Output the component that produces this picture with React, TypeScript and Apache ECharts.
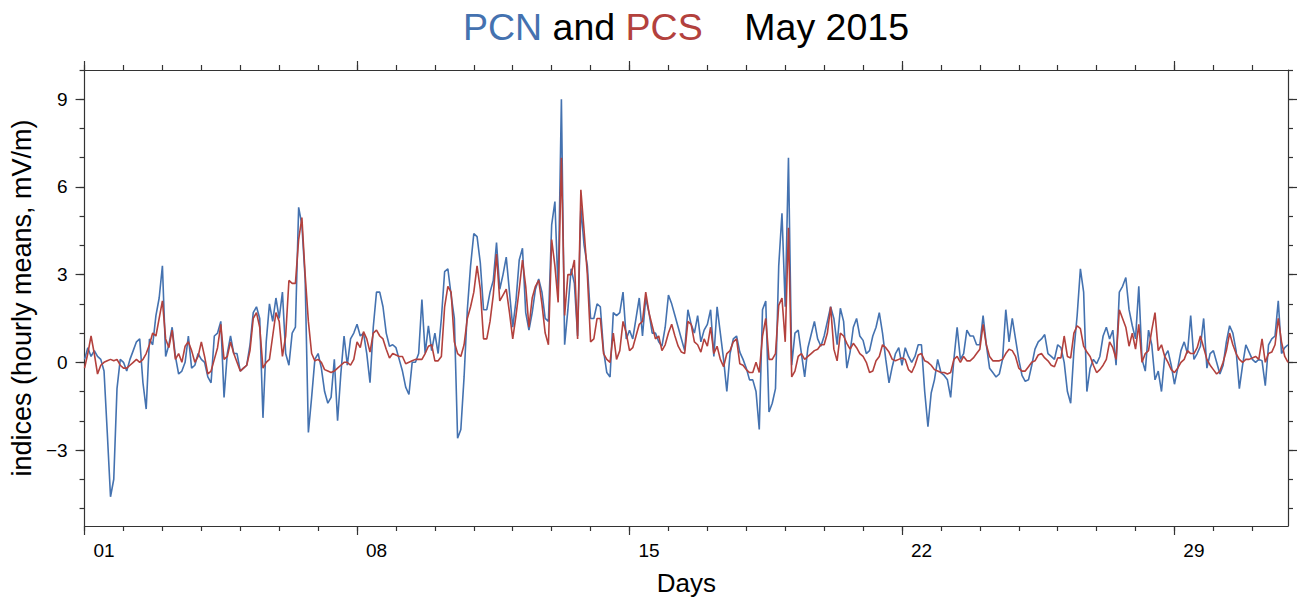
import React, { useEffect, useRef } from "react";
import * as echarts from "echarts";

const FONT = "'Liberation Sans', Arial, sans-serif";
const BLUE = "#4472b0";
const RED = "#b3413d";
const AXIS = "#333333";

// hourly means, read every 2 hours from 1 May 00 UT
const STEP_HOURS = 2;

const pcnWeek1 = [
	0.1, 0.5, 0.2, 0.4, 0.2, 0.1, -0.3, -2.4, -4.6, -4.0, -0.9, 0.1,
	0.0, -0.3, 0.1, 0.4, 0.7, 0.8, -0.7, -1.6, 0.8, 0.6, 1.6, 2.2,
	3.3, 0.2, 0.6, 1.2, 0.2, -0.4, -0.3, 0.0, 0.9, -0.2, -0.1, 0.3,
	0.1, 0.0, -0.5, -0.7, 0.9, 1.0, 1.4, -1.2, 0.3, 0.9, 0.3, 0.3,
	-0.3, -0.2, -0.1, 0.6, 1.7, 1.9, 1.5, -1.9, 0.7, 2.0, 1.4, 2.2,
	1.5, 2.4, 0.3, -0.1, 1.0, 1.2, 5.3, 4.7, 2.85, -2.4, -1.2, 0.1,
	0.3, -0.2, -1.0, -1.4, -1.2, 0.1, -2.0, -0.4, 0.9, -0.1, 0.8, 1.0,
];
const pcnWeek2 = [
	1.3, 0.9, 1.0, 0.3, -0.7, 1.2, 2.4, 2.4, 1.9, 1.0, 0.55, 0.6,
	0.5, 0.1, -0.3, -0.85, -1.1, 0.0, 0.0, 0.3, 2.15, 0.3, 1.25, 0.4,
	1.0, 0.3, 1.5, 3.1, 3.2, 2.3, 1.5, -2.6, -2.3, -0.5, 1.8, 3.3,
	4.4, 4.3, 3.4, 1.8, 1.8, 2.4, 2.8, 4.1, 2.5, 3.0, 3.6, 2.4,
	1.2, 2.1, 3.5, 3.9, 1.7, 1.1, 1.7, 2.5, 2.85, 2.4, 1.5, 1.4,
	4.7, 5.5, 2.4, 9.0, 0.6, 1.8, 3.2, 2.7, 0.9, 5.3, 4.0, 3.3,
	1.5, 1.5, 2.0, 1.9, 0.4, -0.35, -0.5, 1.7, 1.6, 1.7, 2.4, 0.8,
];
const pcnWeek3 = [
	1.1, 0.8, 1.5, 2.2, 0.9, 2.2, 1.7, 1.0, 1.0, 0.7, 0.55, 1.2,
	2.3, 2.0, 1.6, 1.2, 0.8, 0.4, 1.8, 1.3, 1.0, 1.6, 0.7, 1.1,
	1.3, 1.8, 0.2, 1.9, 1.0, 0.1, -1.0, 0.3, 0.8, 0.9, 0.35, 0.1,
	-0.2, -0.6, -0.6, -1.0, -2.3, 1.8, 2.1, -1.7, -1.4, -0.9, 3.3, 5.1,
	1.9, 7.0, -0.1, 1.0, 1.1, 0.3, -0.5, 0.5, 0.95, 1.4, 0.8, 0.55,
	0.9, 1.4, 1.9, 1.5, 0.6, 1.85, 1.4, -0.2, 0.35, 1.2, 1.5, 0.9,
	0.75, 0.3, 0.4, 0.9, 1.2, 1.7, 1.0, 0.1, -0.7, -0.15, 0.3, 0.5,
];
const pcnWeek4 = [
	-0.1, 0.5, 0.2, 0.0, 0.2, 0.6, 0.6, -1.0, -2.2, -1.05, -0.6, 0.1,
	-0.35, -0.45, -0.6, -1.2, 0.1, 1.2, 0.1, 0.3, 1.1, 0.9, 0.9, 0.6,
	0.6, 1.6, 0.6, -0.2, -0.35, -0.5, -0.4, 0.1, 1.8, 0.7, 1.5, 0.8,
	0.1, -0.45, -0.65, -0.6, -0.1, 0.45, 0.7, 0.8, 0.95, 0.3, 0.2, 0.1,
	0.6, 0.5, 0.0, -1.0, -1.4, 0.4, 1.6, 3.2, 2.4, -1.0, -0.2, 0.1,
	-0.05, 0.2, 0.9, 1.2, 0.8, 1.1, -0.1, 2.4, 2.6, 2.9, 1.8, 1.25,
	0.8, 2.6, 0.1, -0.3, 1.1, 0.6, -0.6, -0.3, -1.0, 0.2, 0.4, -0.1,
];
const pcnWeek5 = [
	-0.75, -0.2, 0.4, 0.7, 0.3, 1.6, 0.1, 0.3, 0.55, 1.5, -0.2, 0.3,
	0.4, 0.0, -0.4, -0.1, 0.7, 1.25, 1.0, 0.4, -0.9, -0.1, 0.6, 0.35,
	0.1, 0.0, 0.1, 0.05, -0.8, 0.6, 0.8, 0.9, 2.1, 0.3, 0.5, 0.6,
];

const pcsWeek1 = [
	-0.2, 0.3, 0.9, 0.3, -0.4, -0.1, 0.0, 0.05, 0.1, 0.05, 0.1, -0.1,
	-0.2, -0.2, -0.1, 0.0, 0.1, 0.0, 0.1, 0.3, 0.6, 1.0, 0.9, 1.5,
	2.1, 0.8, 0.5, 1.1, 0.1, 0.3, 0.0, 0.55, 0.7, 0.4, 0.0, 0.2,
	0.7, 0.2, -0.4, -0.3, 0.1, 0.5, 1.3, 0.1, 0.2, 0.7, 0.3, 0.0,
	-0.3, -0.2, -0.1, 0.4, 1.5, 1.7, 1.2, -0.2, 0.0, 0.1, 0.9, 1.7,
	1.4, 0.2, 0.9, 2.8, 2.7, 2.7, 4.2, 4.95, 3.0, 1.4, 0.3, 0.05,
	0.1, 0.0, -0.25, -0.3, -0.35, -0.3, -0.2, -0.1, 0.0, 0.0, -0.1, 0.1,
];
const pcsWeek2 = [
	0.7, 0.5, 1.05, 0.8, 0.35, 1.0, 1.1, 0.9, 0.8, 0.45, 0.15, 0.3,
	0.25, 0.2, 0.2, -0.05, 0.0, 0.05, 0.1, 0.1, 0.1, 0.3, 0.55, 0.6,
	0.05, 0.05, 0.2, 1.9, 2.6, 2.4, 0.7, 0.3, 0.2, 0.6, 1.5, 1.9,
	2.4, 3.3, 2.5, 0.8, 0.8, 1.4, 2.3, 3.7, 2.1, 2.3, 2.5, 1.7,
	0.8, 1.6, 2.5, 3.5, 2.6, 1.2, 2.2, 2.6, 2.8, 2.0, 1.0, 0.6,
	4.2, 3.3, 2.05, 7.0, 1.6, 3.0, 3.0, 3.5, 0.8, 5.9, 4.5, 3.0,
	0.7, 0.8, 1.5, 1.5, 0.3, 0.1, 0.0, 1.0, 0.1, 0.4, 1.4, 1.0,
];
const pcsWeek3 = [
	0.4, 0.5, 0.9, 1.3, 1.4, 2.4, 1.7, 1.25, 0.8, 0.9, 0.4, 0.6,
	1.0, 1.3, 0.9, 0.55, 0.35, 0.3, 1.4, 1.3, 0.7, 0.6, 0.35, 0.8,
	0.55, 1.2, 0.3, 0.55, 0.1, -0.15, 0.3, 0.4, 0.7, 0.8, -0.05, -0.1,
	-0.25, -0.35, -0.35, 0.0, -0.35, 0.9, 1.5, 0.1, 0.1, 0.3, 1.95, 2.2,
	0.7, 4.6, -0.5, -0.3, 0.2, 0.3, 0.1, 0.2, 0.3, 0.4, 0.45, 0.6,
	0.6, 1.0, 1.9, 0.45, 0.05, 1.0, 0.9, 0.65, 0.45, 0.65, 0.5, 0.3,
	0.2, 0.0, -0.35, -0.3, 0.05, 0.2, 0.6, 0.5, 0.35, 0.1, 0.05, 0.1,
];
const pcsWeek4 = [
	0.15, 0.1, -0.25, -0.35, -0.1, 0.25, 0.3, 0.05, 0.0, -0.1, -0.25, -0.3,
	-0.35, -0.35, -0.4, -0.35, 0.1, 0.2, 0.0, 0.2, 0.05, 0.05, 0.15, 0.3,
	0.45, 1.3, 0.6, 0.2, 0.05, 0.05, 0.05, 0.1, 0.3, 0.45, 0.4, 0.2,
	-0.2, -0.3, -0.3, -0.15, 0.0, 0.05, 0.25, 0.3, 0.15, 0.05, -0.1, -0.15,
	0.15, 0.15, 0.9, 0.2, 0.15, 1.0, 1.25, 1.15, 0.55, 0.35, 0.2, -0.1,
	-0.35, -0.25, -0.1, 0.1, 0.7, 0.5, 0.1, 1.8, 1.5, 1.2, 0.55, 1.0,
	0.45, 1.3, 0.0, 0.3, 0.4, 1.1, 1.7, 0.4, 0.6, 0.2, 0.0, -0.25,
];
const pcsWeek5 = [
	-0.35, -0.2, 0.0, 0.1, 0.4, 0.3, 0.3, 0.5, 0.9, 0.5, 0.1, -0.1,
	-0.25, -0.4, -0.3, 0.0, 0.4, 1.0, 0.6, 0.3, 0.1, 0.0, 0.1, 0.1,
	0.15, 0.2, 0.1, 0.8, 0.0, 0.3, 0.35, 0.6, 1.5, 0.7, 0.2, 0.0,
];

// axis ticks (hours since 1 May 00 UT); day labels sit at noon of their day
const weekTicks = [0, 168, 336, 504, 672];
const weekLabelPos = [12, 180, 348, 516, 684];
const weekLabels = ["01", "08", "15", "22", "29"];
const yMajorTicks = [-3, 0, 3, 6, 9];
const yUnitTicks = [-5, -4, -3, -2, -1, 0, 1, 2, 3, 4, 5, 6, 7, 8, 9, 10];
const X_MAX = 742;
const Y_MIN = -5.6;
const Y_MAX = 10;

const pcn = [...pcnWeek1, ...pcnWeek2, ...pcnWeek3, ...pcnWeek4, ...pcnWeek5];
const pcs = [...pcsWeek1, ...pcsWeek2, ...pcsWeek3, ...pcsWeek4, ...pcsWeek5];
const toPoints = (vals: number[]) => vals.map((v, i) => [i * STEP_HOURS, v]);
const dayTicks = Array.from({ length: 31 }, (_, i) => i * 24);

const lineStyle = { color: AXIS, width: 1.2 };

const xAxisOf = (position: "top" | "bottom", major: boolean, labels: boolean): any => ({
	type: "value",
	position,
	min: 0,
	max: X_MAX,
	splitLine: { show: false },
	axisLine: { show: !major, onZero: false, lineStyle },
	axisTick: {
		show: true,
		inside: false,
		length: major ? 9 : 5,
		customValues: major ? weekTicks : dayTicks,
		lineStyle,
	},
	axisLabel: labels
		? {
				show: true,
				customValues: weekLabelPos,
				margin: 15,
				color: "#000",
				fontSize: 19,
				fontFamily: FONT,
				formatter: (v: number) => {
					const i = weekLabelPos.indexOf(v);
					return i >= 0 ? weekLabels[i] : "";
				},
		  }
		: { show: false },
	...(labels
		? {
				name: "Days",
				nameLocation: "middle",
				nameGap: 44,
				nameTextStyle: { fontSize: 26, fontFamily: FONT, color: "#000" },
		  }
		: {}),
});

const yAxisOf = (position: "left" | "right", major: boolean, labels: boolean): any => ({
	type: "value",
	position,
	min: Y_MIN,
	max: Y_MAX,
	splitLine: { show: false },
	axisLine: { show: !major, onZero: false, lineStyle },
	axisTick: {
		show: true,
		inside: false,
		length: major ? 9 : 5,
		customValues: major ? yMajorTicks : yUnitTicks,
		lineStyle,
	},
	axisLabel: labels
		? {
				show: true,
				customValues: yMajorTicks,
				margin: 17,
				color: "#000",
				fontSize: 19,
				fontFamily: FONT,
				formatter: (v: number) => String(v).replace("-", "\u2212"),
		  }
		: { show: false },
	...(labels
		? {
				name: "indices (hourly means, mV/m)",
				nameLocation: "middle",
				nameRotate: 90,
				nameGap: 48,
				nameTextStyle: { fontSize: 27, fontFamily: FONT, color: "#000" },
		  }
		: {}),
});

export default function App() {
	const chartRef = useRef<HTMLDivElement>(null);

	useEffect(() => {
		if (!chartRef.current) return;
		const chart = echarts.init(chartRef.current, undefined, { renderer: "svg" });

		const option: any = {
			animation: false,
			backgroundColor: "#ffffff",
			title: {
				text: "{b|PCN} {k|and} {r|PCS}    {k|May 2015}",
				left: 458,
				top: 3,
				textStyle: {
					fontSize: 37.5,
					fontFamily: FONT,
					fontWeight: "normal",
					color: "#000",
					rich: {
						b: { color: BLUE, fontSize: 37.5, fontFamily: FONT },
						r: { color: RED, fontSize: 37.5, fontFamily: FONT },
						k: { color: "#000", fontSize: 37.5, fontFamily: FONT },
					},
				},
			},
			grid: { left: 84, right: 9, top: 70, bottom: 74, containLabel: false },
			xAxis: [
				xAxisOf("bottom", false, true),
				xAxisOf("bottom", true, false),
				xAxisOf("top", false, false),
				xAxisOf("top", true, false),
			],
			yAxis: [
				yAxisOf("left", false, true),
				yAxisOf("left", true, false),
				yAxisOf("right", false, false),
				yAxisOf("right", true, false),
			],
			series: [
				{
					name: "PCN",
					type: "line",
					xAxisIndex: 0,
					yAxisIndex: 0,
					showSymbol: false,
					symbol: "none",
					lineStyle: { color: BLUE, width: 1.6 },
					itemStyle: { color: BLUE },
					data: toPoints(pcn),
				},
				{
					name: "PCS",
					type: "line",
					xAxisIndex: 0,
					yAxisIndex: 0,
					showSymbol: false,
					symbol: "none",
					lineStyle: { color: RED, width: 1.6 },
					itemStyle: { color: RED },
					data: toPoints(pcs),
				},
			],
		};

		chart.setOption(option);
		return () => {
			chart.dispose();
		};
	}, []);

	return (
		<div
			ref={chartRef}
			style={{ position: "fixed", left: 0, top: 0, width: 1297, height: 601, background: "#fff" }}
		/>
	);
}
